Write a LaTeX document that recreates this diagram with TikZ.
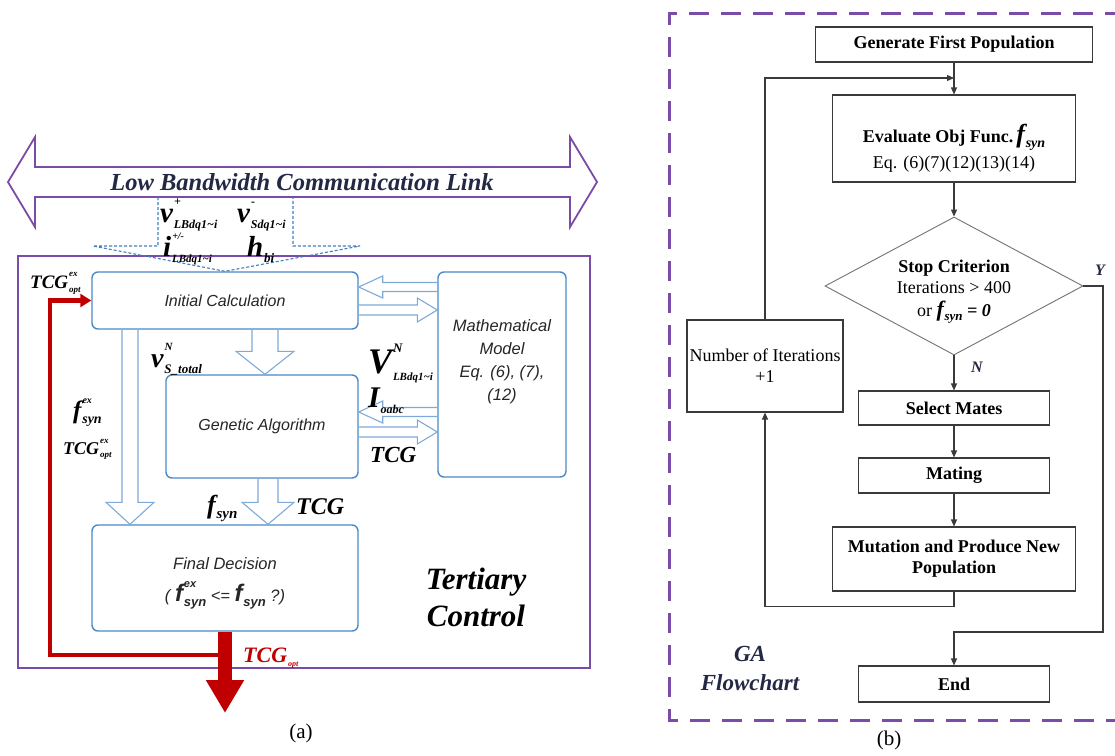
\documentclass[tikz,border=0pt]{standalone}
\usepackage{fontspec}
\setmainfont{Liberation Serif}
\setsansfont{Liberation Sans}
\usetikzlibrary{arrows.meta,calc,shapes.geometric}

\definecolor{tcpurple}{HTML}{7B4BA8}
\definecolor{boxblue}{HTML}{4A8AC8}
\definecolor{arrblue}{HTML}{7FAAD8}
\definecolor{dashblue}{HTML}{3F7FC0}
\definecolor{darkred}{HTML}{C00000}
\definecolor{navy}{HTML}{232845}
\definecolor{flowgray}{HTML}{3A3A3A}

% font size shortcut
\newcommand{\fsz}[2]{\fontsize{#1}{#2}\selectfont}
% symbol with superscript and subscript:
% #1 base size, #2 sup size, #3 sub size, #4 base, #5 sup, #6 sub
\newcommand{\symb}[6]{%
  {\fontsize{#1}{#1}\selectfont #4}%
  \raisebox{0.58\dimexpr#1pt\relax}{\makebox[0pt][l]{\kern1pt\fontsize{#2}{#2}\selectfont #5}}%
  \raisebox{-0.22\dimexpr#1pt\relax}{\kern0.8pt\fontsize{#3}{#3}\selectfont #6}}

% hollow block arrows between boxes
% #1 x, #2 source node, #3 target node, #4 shaft half-width, #5 head half-width, #6 head length
\newcommand{\blockdown}[6]{%
  \draw[harrow] let \p1=(#2.south), \p2=(#3.north) in
    ({#1pt-#4pt},\y1) -- ({#1pt-#4pt},{\y2+#6pt}) -- ({#1pt-#5pt},{\y2+#6pt})
    -- (#1pt,\y2) -- ({#1pt+#5pt},{\y2+#6pt}) -- ({#1pt+#4pt},{\y2+#6pt}) -- ({#1pt+#4pt},\y1);}
% #1 y, #2 source node (right), #3 target node (left)
\newcommand{\blockleft}[6]{%
  \draw[harrow] let \p1=(#2.west), \p2=(#3.east) in
    (\x1,{-#1pt+#4pt}) -- ({\x2+#6pt},{-#1pt+#4pt}) -- ({\x2+#6pt},{-#1pt+#5pt})
    -- (\x2,{-#1pt}) -- ({\x2+#6pt},{-#1pt-#5pt}) -- ({\x2+#6pt},{-#1pt-#4pt}) -- (\x1,{-#1pt-#4pt});}
% #1 y, #2 source node (left), #3 target node (right)
\newcommand{\blockright}[6]{%
  \draw[harrow] let \p1=(#2.east), \p2=(#3.west) in
    (\x1,{-#1pt+#4pt}) -- ({\x2-#6pt},{-#1pt+#4pt}) -- ({\x2-#6pt},{-#1pt+#5pt})
    -- (\x2,{-#1pt}) -- ({\x2-#6pt},{-#1pt-#5pt}) -- ({\x2-#6pt},{-#1pt-#4pt}) -- (\x1,{-#1pt-#4pt});}

\tikzset{
  rbox/.style={draw=boxblue, line width=1.4pt, rounded corners=6pt, inner sep=0pt,
    align=center, text=black!85, font=\sffamily\itshape\fsz{16}{23}},
  btext/.style={inner sep=0pt, align=center, text=black!85, font=\sffamily\itshape\fsz{16.5}{23}},
  harrow/.style={draw=arrblue, line width=1.1pt, line join=miter},
  linkarrow/.style={draw=tcpurple, line width=1.8pt, line join=miter},
  linktext/.style={inner sep=0pt, text=navy, font=\bfseries\itshape\fsz{24.5}{28}},
  tcbox/.style={draw=tcpurple, line width=1.8pt, inner sep=0pt},
  dashblock/.style={draw=dashblue, line width=1.1pt, dash pattern=on 3pt off 2pt},
  mlbl/.style={inner sep=0pt, anchor=base west, text=black, font=\bfseries\itshape},
  redthick/.style={draw=darkred, line width=14pt, -{Triangle[width=36pt,length=33pt]}},
  redthin/.style={draw=darkred, line width=4.5pt, line join=miter, -{Triangle[width=13pt,length=11pt]}},
  fbox/.style={draw=flowgray, line width=1.1pt, inner sep=0pt, align=center,
    text=black, font=\bfseries\fsz{18}{21}},
  ftext/.style={inner sep=0pt, anchor=base, text=black, font=\fsz{18}{21}},
  flow/.style={draw=flowgray, line width=1.1pt, -{Triangle[width=6pt,length=7pt]}},
  gaframe/.style={draw=tcpurple, line width=3pt, dash pattern=on 20pt off 12pt},
  ylbl/.style={inner sep=0pt, text=navy, font=\bfseries\itshape\fsz{16}{16}},
}

\begin{document}
\begin{tikzpicture}[x=1pt,y=-1pt]
\useasboundingbox (0,0) rectangle (1115,755);
\fill[white] (0,0) rectangle (1115,755);

%================ (a) tertiary control =================
% communication link
\draw[linkarrow] (8,182) -- (35,137) -- (35,167) -- (570,167) -- (570,137) -- (597,182)
  -- (570,227) -- (570,197) -- (35,197) -- (35,227) -- cycle;
\node[linktext] (link) at (302,182) {Low Bandwidth Communication Link};

% tertiary control frame
\node[tcbox, minimum width=572, minimum height=412] (tc) at (304,462) {};

% blocks
\node[rbox, minimum width=266, minimum height=57] (ic) at (225,300.5) {Initial Calculation};
\node[rbox, minimum width=128, minimum height=205] (mm) at (502,374.5) {};
\node[btext] (mmt) at (502,362) {Mathematical\\Model\\Eq. (6), (7),\\(12)};
\node[rbox, minimum width=192, minimum height=103] (ga) at (262,426.5) {Genetic Algorithm};
\node[rbox, minimum width=266, minimum height=106] (fd) at (225,578) {};
\node[btext, anchor=base] (fdt) at (225,569) {Final Decision};
\node[btext, anchor=base] (fdq) at (225,601) {( \textbf{\symb{24}{11}{13}{f}{ex}{syn}} <= \textbf{\symb{24}{11}{13}{f}{}{syn}} ?)};

% measurements arriving over the link
\draw[dashblock] (158,197) -- (158,246) -- (93,246) -- (ic.north) -- (360,246) -- (293,246) -- (293,197);
\node[mlbl] (vp) at (160,222) {\symb{29}{12}{12}{v}{+}{LBdq1\textasciitilde i}};
\node[mlbl] (vm) at (237,222) {\symb{29}{12}{12}{v}{-}{Sdq1\textasciitilde i}};
\node[mlbl] (ipm) at (163,256) {\symb{29}{10}{11}{i}{+/-}{LBdq1\textasciitilde i}};
\node[mlbl] (hb) at (247,256) {\symb{29}{12}{13}{h}{}{bi}};

% data exchange between blocks
\blockleft{287}{mm}{ic}{4.5}{11}{24}
\blockright{310}{ic}{mm}{5}{12}{20}
\blockleft{412}{mm}{ga}{4.5}{11}{24}
\blockright{432}{ga}{mm}{5}{12}{20}
\blockdown{265}{ic}{ga}{13}{29}{23}
\blockdown{130}{ic}{fd}{8}{24}{22}
\blockdown{268}{ga}{fd}{10}{26}{22}

\node[mlbl] (vst) at (151,367) {\symb{28}{11}{13}{v}{N}{S\_total}};
\node[mlbl] (vn) at (368,373) {\symb{36}{13}{11}{V}{N}{LBdq1\textasciitilde i}};
\node[mlbl] (io) at (368,407) {\symb{30}{12}{12}{I}{}{oabc}};
\node[mlbl] (tcga) at (370,462) {\fsz{23}{23}TCG};
\node[mlbl] (fex) at (73,418) {\symb{25}{10}{14}{f}{ex}{syn}};
\node[mlbl] (tcgex) at (63,454) {\symb{18}{9}{9}{TCG}{ex}{opt}};
\node[mlbl] (fs) at (207,513) {\symb{26}{15}{15}{f}{}{syn}};
\node[mlbl] (tcgb) at (296,514) {\fsz{24}{24}TCG};

% optimal TCG output and feedback
\draw[redthick] (fd.south) -- (225,713);
\coordinate (rj) at (225,655);
\draw[redthin] (rj) -- (50,655) -- (50,300.5) -- (ic.west);
\node[mlbl] (tcgin) at (30,288) {\symb{19}{9}{9}{TCG}{ex}{opt}};
\node[mlbl, text=darkred] (tcgopt) at (243,662) {\symb{22}{8}{8}{TCG}{}{opt}};

\node[inner sep=0pt, align=center, text=black, font=\bfseries\itshape\fsz{31}{37}] (tert) at (476,597) {Tertiary\\Control};
\node[inner sep=0pt, font=\fsz{21}{21}] (capa) at (301,733) {(a)};

%================ (b) GA flowchart =================
\draw[gaframe] (1125,13) -- (669,13) -- (669,720) -- (1125,720);

\node[fbox, minimum width=277, minimum height=35] (gfp) at (954,44.5) {Generate First Population};
\node[fbox, minimum width=243, minimum height=87] (eval) at (954,138.5) {};
\node[ftext, font=\bfseries\fsz{18}{21}] (evt) at (954,142) {Evaluate Obj Func.\,\textit{\symb{26}{14}{14}{f}{}{syn}}};
\node[ftext] (eveq) at (954,168) {Eq. (6)(7)(12)(13)(14)};

\node[diamond, draw=black!55, line width=0.9pt, inner sep=0pt, aspect=1.87,
      minimum width=258, minimum height=138] (stop) at (954,286) {};
\node[ftext, font=\bfseries\fsz{18}{21}] (st1) at (954,272) {Stop Criterion};
\node[ftext] (st2) at (954,293) {Iterations > 400};
\node[ftext] (st3) at (954,316) {or \textbf{\textit{\symb{22}{13}{13}{f}{}{syn} = 0}}};

\node[fbox, font=\fsz{18}{21}, minimum width=156, minimum height=92] (iter) at (765,366) {Number of Iterations\\+1};
\node[fbox, minimum width=191, minimum height=34] (sel) at (954,408) {Select Mates};
\node[fbox, minimum width=191, minimum height=35] (mat) at (954,475.5) {Mating};
\node[fbox, minimum width=243, minimum height=64] (mut) at (954,559) {Mutation and Produce New\\Population};
\node[fbox, minimum width=191, minimum height=36] (endn) at (954,684) {End};

\coordinate (merge) at (954,78);
\coordinate (yc) at (1103,632);

\draw[flow] (gfp) -- (eval);
\draw[flow] (eval) -- (stop);
\draw[flow] (stop) -- (sel);
\draw[flow] (sel) -- (mat);
\draw[flow] (mat) -- (mut);
\draw[flow] (mut.south) -- ++(0,15) -| (iter.south);
\draw[flow] (iter.north) |- (merge);
\draw[flow] (stop.east) -| (yc) -| (endn.north);

\node[ylbl] (ylab) at (1100,270) {Y};
\node[ylbl] (nlab) at (977,367) {N};

\node[inner sep=0pt, align=center, text=navy, font=\bfseries\itshape\fsz{23}{29}] (gat) at (750,668) {GA\\Flowchart};
\node[inner sep=0pt, font=\fsz{21}{21}] (capb) at (889,740) {(b)};
\end{tikzpicture}
\end{document}
